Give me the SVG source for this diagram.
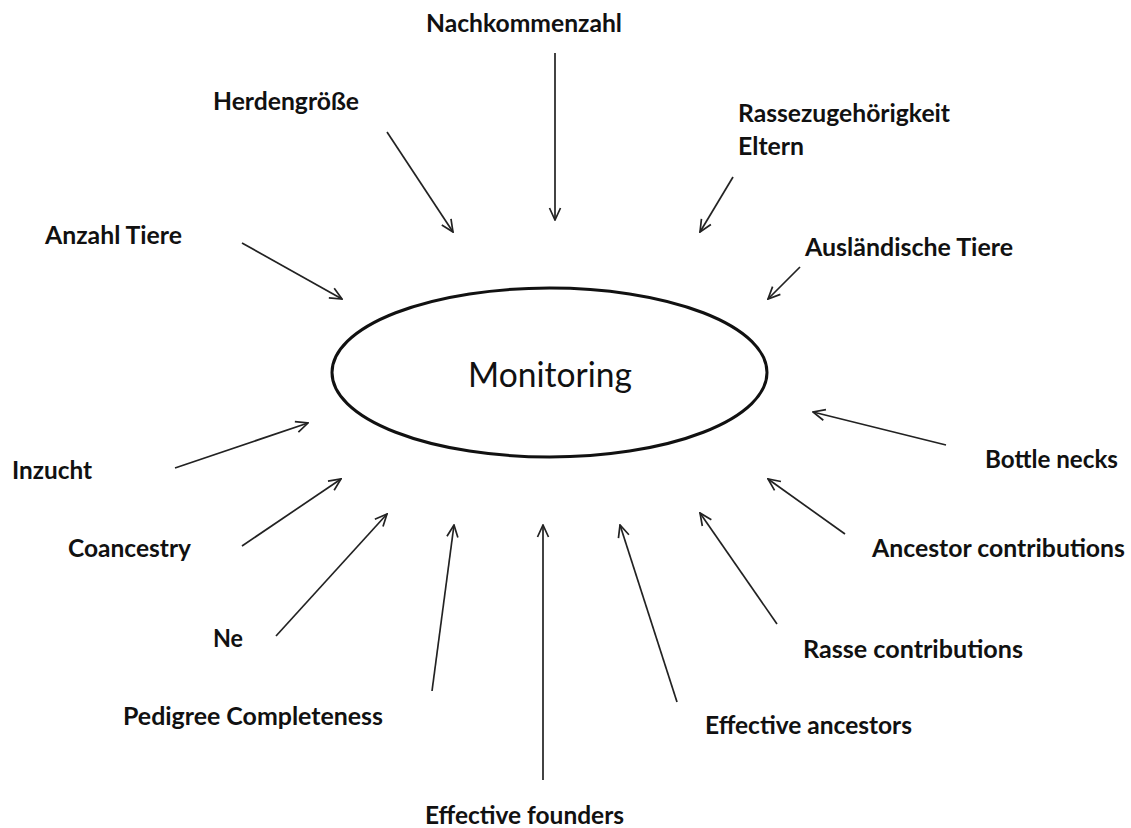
<svg xmlns="http://www.w3.org/2000/svg" width="1131" height="828" viewBox="0 0 1131 828">
<style>
.lbl{font-family:Lato,"Open Sans","Liberation Sans",sans-serif;font-weight:bold;font-size:24px;fill:#111}
.main{font-family:Lato,"Open Sans","Liberation Sans",sans-serif;font-size:34px;fill:#111}
.conn line{stroke:#222;stroke-width:1.7;marker-end:url(#ah)}
</style>
<defs>
<marker id="ah" viewBox="0 0 14 14" refX="13" refY="7" markerWidth="14" markerHeight="14" markerUnits="userSpaceOnUse" orient="auto">
<path d="M1,1.5 L13,7 L1,12.5" fill="none" stroke="#222" stroke-width="1.7"/>
</marker>
</defs>
<rect width="1131" height="828" fill="#fff"/>
<g id="connectors" class="conn">
<line x1="555" y1="53" x2="555" y2="220"/>
<line x1="387" y1="132" x2="453" y2="232"/>
<line x1="733" y1="177" x2="700" y2="232"/>
<line x1="800" y1="267" x2="768" y2="299"/>
<line x1="242" y1="243" x2="342" y2="299"/>
<line x1="175" y1="468" x2="308" y2="423"/>
<line x1="242" y1="546" x2="341" y2="479"/>
<line x1="276" y1="636" x2="387" y2="514"/>
<line x1="432" y1="691" x2="454" y2="525"/>
<line x1="543" y1="780" x2="543" y2="525"/>
<line x1="677" y1="702" x2="620" y2="525"/>
<line x1="777" y1="624" x2="700" y2="513"/>
<line x1="845" y1="534" x2="768" y2="479"/>
<line x1="946" y1="445" x2="813" y2="412"/>
</g>
<g id="monitoring">
<ellipse cx="549.5" cy="372.5" rx="217.5" ry="84.5" fill="#fff" stroke="#111" stroke-width="3"/>
<text class="main" x="468" y="387" textLength="164" lengthAdjust="spacingAndGlyphs">Monitoring</text>
</g>
<g id="n-nachkommenzahl"><text class="lbl" x="426" y="32" textLength="196" lengthAdjust="spacingAndGlyphs">Nachkommenzahl</text></g>
<g id="n-herdengroesse"><text class="lbl" x="213" y="110" textLength="146" lengthAdjust="spacingAndGlyphs">Herdengröße</text></g>
<g id="n-rassezugehoerigkeit">
<text class="lbl" x="738" y="122" textLength="212" lengthAdjust="spacingAndGlyphs">Rassezugehörigkeit</text>
<text class="lbl" x="738" y="155" textLength="66" lengthAdjust="spacingAndGlyphs">Eltern</text>
</g>
<g id="n-auslaendische"><text class="lbl" x="805" y="256" textLength="208" lengthAdjust="spacingAndGlyphs">Ausländische Tiere</text></g>
<g id="n-anzahl"><text class="lbl" x="45" y="244" textLength="137" lengthAdjust="spacingAndGlyphs">Anzahl Tiere</text></g>
<g id="n-inzucht"><text class="lbl" x="12" y="479" textLength="80" lengthAdjust="spacingAndGlyphs">Inzucht</text></g>
<g id="n-coancestry"><text class="lbl" x="68" y="557" textLength="123" lengthAdjust="spacingAndGlyphs">Coancestry</text></g>
<g id="n-ne"><text class="lbl" x="213" y="647" textLength="30" lengthAdjust="spacingAndGlyphs">Ne</text></g>
<g id="n-pedigree"><text class="lbl" x="123" y="725" textLength="260" lengthAdjust="spacingAndGlyphs">Pedigree Completeness</text></g>
<g id="n-founders"><text class="lbl" x="425" y="824" textLength="199" lengthAdjust="spacingAndGlyphs">Effective founders</text></g>
<g id="n-ancestors"><text class="lbl" x="705" y="734" textLength="207" lengthAdjust="spacingAndGlyphs">Effective ancestors</text></g>
<g id="n-rasse-contrib"><text class="lbl" x="803" y="658" textLength="220" lengthAdjust="spacingAndGlyphs">Rasse contributions</text></g>
<g id="n-ancestor-contrib"><text class="lbl" x="872" y="557" textLength="253" lengthAdjust="spacingAndGlyphs">Ancestor contributions</text></g>
<g id="n-bottle"><text class="lbl" x="985" y="468" textLength="133" lengthAdjust="spacingAndGlyphs">Bottle necks</text></g>
</svg>
